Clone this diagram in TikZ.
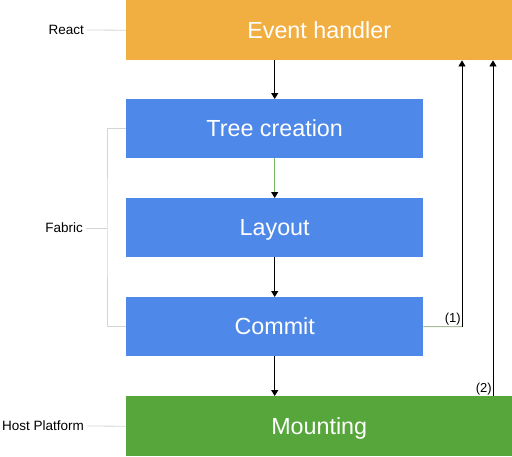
\documentclass[tikz,border=0pt]{standalone}
\usepackage{fontspec}
\setmainfont{Liberation Sans}
\usetikzlibrary{arrows.meta}

\definecolor{reactorange}{HTML}{F2AF41}
\definecolor{fabricblue}{HTML}{4E88E8}
\definecolor{hostgreen}{HTML}{56A63C}
\definecolor{guidegray}{HTML}{D2D6D2}
\definecolor{sagegray}{HTML}{A9BC9A}

\begin{document}
\begin{tikzpicture}[x=1pt,y=-1pt,
    stage/.style={anchor=north west,minimum height=59pt,inner sep=0pt,text=white,
                  text height=16pt,text depth=0pt,font=\fontsize{23.3}{27}\selectfont},
    layer/.style={anchor=east,inner sep=0pt,font=\fontsize{13.5}{16}\selectfont},
    tag/.style={inner sep=1pt,font=\fontsize{13}{15}\selectfont},
    guide/.style={draw=guidegray,line width=0.8pt},
    flow/.style={draw=black,line width=0.8pt,-{Triangle[length=6pt,width=7pt,color=black]}}]

  \useasboundingbox (0,0) rectangle (512,456);

  % stages
  \node[stage,fill=reactorange,minimum width=386pt,minimum height=60pt] (handler) at (126,0) {Event handler};
  \node[stage,fill=fabricblue,minimum width=297pt] (tree) at (126,99) {Tree creation};
  \node[stage,fill=fabricblue,minimum width=297pt] (layout) at (126,198) {Layout};
  \node[stage,fill=fabricblue,minimum width=297pt] (commit) at (126,297) {Commit};
  \node[stage,fill=hostgreen,minimum width=386pt,minimum height=60pt] (mount) at (126,396) {Mounting};

  % layers on the left
  \node[layer] (react) at (84,30) {React};
  \node[layer] (fabric) at (83,228) {Fabric};
  \node[layer] (host) at (84,426) {Host Platform};
  \coordinate (fb) at (107,228);

  \draw[guide,shorten <=3pt] (react.east) -- (handler.west);
  \draw[guide,shorten <=3pt] (fabric.east) -- (fb);
  \draw[guide] (tree.west) -| (fb) |- (commit.west);
  \draw[guide,shorten <=3pt] (host.east) -- (mount.west);

  % main flow
  \draw[flow] (tree.north |- handler.south) -- (tree.north);
  \draw[flow,draw=hostgreen!80] (tree.south) -- (layout.north);
  \draw[flow] (layout.south) -- (commit.north);
  \draw[flow] (commit.south) -- (commit.south |- mount.north);

  % back to the event handler
  \coordinate (k1) at (462,326.5);
  \coordinate (k2) at (493,396);
  \draw[draw=sagegray,line width=1pt] (commit.east) -- (k1);
  \draw[flow] (k1) -- (k1 |- handler.south);
  \node[tag,anchor=south east] (one) at (k1) {(1)};
  \draw[flow] (k2) -- (k2 |- handler.south);
  \node[tag,anchor=south east] (two) at (k2) {(2)};

\end{tikzpicture}
\end{document}
